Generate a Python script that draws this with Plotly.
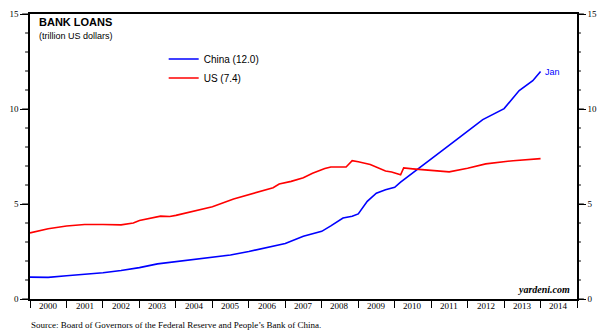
import plotly.graph_objects as go

# ---------------- data ----------------
china_dates = ["2000-01-01", "2000-07-01", "2001-01-01", "2001-07-01", "2002-01-01", "2002-07-01",
               "2003-01-01", "2003-07-01", "2004-01-01", "2004-07-01", "2005-01-01", "2005-07-01",
               "2006-01-01", "2006-07-01", "2007-01-01", "2007-07-01", "2008-01-01", "2008-04-01",
               "2008-08-01", "2008-11-01", "2009-01-01", "2009-04-01", "2009-07-01", "2009-10-01",
               "2010-01-01", "2010-03-01", "2010-11-01", "2011-05-01", "2011-11-01", "2012-06-01",
               "2013-01-01", "2013-06-01", "2013-10-15", "2014-01-01"]
china_vals = [1.15, 1.14, 1.22, 1.30, 1.38, 1.50,
              1.65, 1.85, 1.97, 2.08, 2.18, 2.32,
              2.50, 2.72, 2.92, 3.30, 3.56, 3.85,
              4.26, 4.35, 4.48, 5.14, 5.57, 5.75,
              5.88, 6.15, 7.15, 7.85, 8.58, 9.44,
              10.02, 10.97, 11.49, 11.97]

us_dates = ["2000-01-01", "2000-07-01", "2001-01-01", "2001-07-01", "2002-01-01", "2002-07-01",
            "2002-11-01", "2003-01-01", "2003-08-01", "2003-11-01", "2004-01-01", "2004-07-01",
            "2005-01-01", "2005-08-01", "2006-02-01", "2006-09-01", "2006-11-01", "2007-03-01",
            "2007-07-01", "2007-10-01", "2008-02-01", "2008-04-01", "2008-09-01", "2008-11-01",
            "2009-01-01", "2009-05-01", "2009-10-01", "2009-12-01", "2010-03-01", "2010-04-01",
            "2010-07-01", "2011-01-01", "2011-07-01", "2012-01-01", "2012-07-01", "2013-04-01",
            "2014-01-01"]
us_vals = [3.48, 3.70, 3.84, 3.92, 3.92, 3.90,
           4.00, 4.13, 4.36, 4.34, 4.40, 4.62,
           4.85, 5.26, 5.52, 5.86, 6.05, 6.19,
           6.38, 6.62, 6.87, 6.95, 6.95, 7.28,
           7.22, 7.08, 6.74, 6.68, 6.54, 6.90,
           6.85, 6.76, 6.69, 6.88, 7.11, 7.28,
           7.39]

china_name = "China (12.0)"
us_name = "US (7.4)"
year_labels = [str(y) for y in range(2000, 2015)]
year_mid = ["%d-07-02" % y for y in range(2000, 2015)]
y_range = [0, 15]
major_ticks = [0, 5, 10, 15]
minor_ticks = list(range(0, 16))

SERIF = "Liberation Serif"
SANS = "Liberation Sans"

fig = go.Figure()
fig.add_trace(go.Scatter(x=china_dates, y=china_vals, mode="lines", name=china_name,
                         line=dict(color="#0000ff", width=1.6)))
fig.add_trace(go.Scatter(x=us_dates, y=us_vals, mode="lines", name=us_name,
                         line=dict(color="#ff0000", width=1.6)))
# invisible carrier trace so that the right axis is drawn
fig.add_trace(go.Scatter(x=us_dates, y=us_vals, mode="lines", yaxis="y2", showlegend=False,
                         hoverinfo="skip", line=dict(color="rgba(0,0,0,0)", width=0)))

def major_axis(ticklen):
    return dict(range=y_range, tickmode="array", tickvals=major_ticks,
                ticktext=[str(v) for v in major_ticks],
                ticks="outside", ticklen=ticklen, tickwidth=1, tickcolor="black",
                showline=True, linecolor="black", linewidth=1.5, showgrid=False, zeroline=False,
                tickfont=dict(family=SERIF, size=9, color="black"), fixedrange=True)

fig.update_layout(
    width=606, height=334,
    margin=dict(l=23, r=25, t=9, b=35),
    paper_bgcolor="white", plot_bgcolor="white",
    showlegend=True,
    legend=dict(x=0.2444, y=0.893, xanchor="left", yanchor="top",
                font=dict(family=SANS, size=10, color="black"),
                bgcolor="rgba(0,0,0,0)", tracegroupgap=0),
    xaxis=dict(type="date", range=["2000-01-01", "2015-01-01"], showticklabels=False,
               tickmode="linear", tick0="2000-01-01", dtick="M12",
               ticks="outside", ticklen=7, tickcolor="black", tickwidth=1.2,
               showline=True, linecolor="black", linewidth=1.5, mirror=True,
               showgrid=False, zeroline=False),
    yaxis=major_axis(8),
    yaxis2=dict(**major_axis(7), overlaying="y", side="right"),
)

plot_l, plot_r, plot_t, plot_b = 23, 581, 9, 299
plot_w = plot_r - plot_l
def px(xp):
    return (xp - plot_l) / plot_w
def py(yp):
    return (plot_b - yp) / (plot_b - plot_t)

# tick marks on both value axes (every unit, longer at labelled values),
# placed in paper coordinates from the axis range so they are never clipped
shapes = []
for v in minor_ticks:
    yp = (v - y_range[0]) / (y_range[1] - y_range[0])
    left_len = 8 if v in major_ticks else 5
    right_len = 7 if v in major_ticks else 4
    shapes.append(dict(type="line", xref="paper", yref="paper", x0=-left_len / plot_w, x1=0,
                       y0=yp, y1=yp, line=dict(color="black", width=1)))
    shapes.append(dict(type="line", xref="paper", yref="paper", x0=1, x1=1 + right_len / plot_w,
                       y0=yp, y1=yp, line=dict(color="black", width=1)))
fig.update_layout(shapes=shapes)

annotations = []
for lab, xm in zip(year_labels, year_mid):
    annotations.append(dict(x=xm, y=py(306), xref="x", yref="paper", text=lab, showarrow=False,
                            xanchor="center", yanchor="middle",
                            font=dict(family=SERIF, size=9, color="black")))
annotations += [
    dict(x=px(30), y=py(17), xref="paper", yref="paper", text="<b>BANK LOANS</b>", showarrow=False,
         xanchor="left", yanchor="middle", font=dict(family=SANS, size=11, color="black")),
    dict(x=px(30), y=py(31), xref="paper", yref="paper", text="(trillion US dollars)",
         showarrow=False, xanchor="left", yanchor="middle",
         font=dict(family=SANS, size=9, color="black")),
    dict(x=china_dates[-1], y=china_vals[-1], xref="x", yref="y", text="Jan", showarrow=False,
         xanchor="left", yanchor="middle", xshift=2,
         font=dict(family=SANS, size=9, color="#0000ff")),
    dict(x=px(576), y=py(289), xref="paper", yref="paper", text="<b><i>yardeni.com</i></b>",
         showarrow=False, xanchor="right", yanchor="middle",
         font=dict(family=SERIF, size=10, color="black")),
    dict(x=px(22), y=py(325), xref="paper", yref="paper",
         text="Source: Board of Governors of the Federal Reserve and People\u2019s Bank of China.",
         showarrow=False, xanchor="left", yanchor="middle",
         font=dict(family=SERIF, size=9, color="black")),
]
fig.update_layout(annotations=annotations)

fig.write_html("out.html")
